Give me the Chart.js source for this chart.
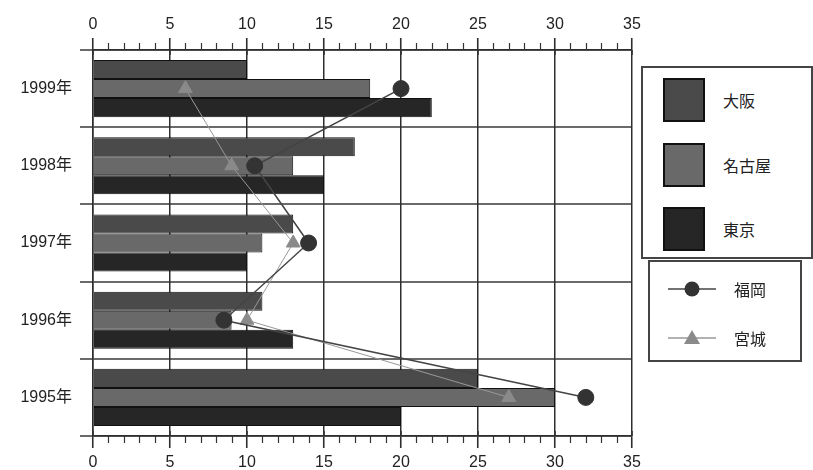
<!DOCTYPE html>
<html>
<head>
<meta charset="utf-8">
<script src="https://cdn.jsdelivr.net/npm/chart.js@4/dist/chart.umd.min.js"></script>
<style>
  html, body { margin: 0; padding: 0; background: #fff; }
  #wrap { position: relative; width: 813px; height: 470px; }
  canvas { position: absolute; left: 0; top: 0; }
  .lg { position: absolute; border: 2px solid #444; background: #fff; box-sizing: border-box;
        font-family: "Noto Sans CJK JP", "Liberation Sans", sans-serif; font-size: 16px; color: #222; }
  .lg .row { position: absolute; display: flex; align-items: center; }
  .sw { width: 42px; height: 44px; border: 2px solid #111; box-sizing: border-box; margin-right: 18px; }
  .mk { width: 48px; height: 20px; margin-right: 18px; }
</style>
</head>
<body>
<div id="wrap">
  <canvas id="c" width="813" height="470"></canvas>
  <div id="lgBars" class="lg" style="left:641px; top:66px; width:172px; height:193px;"></div>
  <div id="lgLines" class="lg" style="left:648px; top:260px; width:154px; height:102px;"></div>
</div>
<script>
// Categories, top to bottom
const years = ['1999年', '1998年', '1997年', '1996年', '1995年'];

// Bar series
const barNames = ['大阪', '名古屋', '東京'];
const osaka  = [10, 17, 13, 11, 25];
const nagoya = [18, 13, 11, 9, 30];
const tokyo  = [22, 15, 10, 13, 20];

// Line series
const lineNames = ['福岡', '宮城'];
const fukuoka = [20, 10.5, 14, 8.5, 32];
const miyagi  = [6, 9, 13, 10, 27];

// Value axis
const xMin = 0, xMax = 35, majorStep = 5;

const barColors = ['#4a4a4a', '#696969', '#262626'];
const lineStyles = [
  { line: '#444', marker: '#333', shape: 'circle', radius: 8, width: 1.5 },
  { line: '#999', marker: '#8a8a8a', shape: 'triangle', radius: 8, width: 1 }
];

const barSeries = [osaka, nagoya, tokyo];
const lineSeries = [fukuoka, miyagi];

const datasets = [];
barSeries.forEach((vals, i) => {
  datasets.push({
    type: 'bar', label: barNames[i], data: vals,
    backgroundColor: barColors[i], borderColor: '#111', borderWidth: 1,
    categoryPercentage: 0.74, barPercentage: 1.0, order: 2,
    xAxisID: 'x', yAxisID: 'y'
  });
});
lineSeries.forEach((vals, i) => {
  const s = lineStyles[i];
  datasets.push({
    type: 'line', label: lineNames[i], data: vals, indexAxis: 'y',
    borderColor: s.line, borderWidth: s.width, fill: false, tension: 0,
    pointStyle: s.shape, pointRadius: s.radius, pointBackgroundColor: s.marker,
    pointBorderColor: s.marker, pointBorderWidth: 1, order: 1,
    xAxisID: 'x', yAxisID: 'y'
  });
});

const tickFont = { family: '"Liberation Sans", "Noto Sans CJK JP", sans-serif', size: 16 };
const majorColor = ctx => (ctx.tick && ctx.tick.value % majorStep === 0) ? '#2e2e2e' : 'rgba(0,0,0,0)';
const labelCb = v => (v % majorStep === 0 ? String(v) : '');

// Short minor tick marks on both value axes, pointing outward
const minorTicks = {
  id: 'minorTicks',
  afterDraw(chart) {
    const ctx = chart.ctx;
    ctx.save();
    ctx.strokeStyle = '#333';
    ctx.lineWidth = 1.2;
    ['x', 'x2'].forEach(id => {
      const sc = chart.scales[id];
      for (let v = xMin; v <= xMax; v++) {
        if (v % majorStep === 0) continue;
        const px = Math.round(sc.getPixelForValue(v)) + 0.5;
        ctx.beginPath();
        if (sc.position === 'top') { ctx.moveTo(px, sc.bottom - 7); ctx.lineTo(px, sc.bottom); }
        else { ctx.moveTo(px, sc.top); ctx.lineTo(px, sc.top + 7); }
        ctx.stroke();
      }
      // major marks cross the axis line a little
      for (let v = xMin; v <= xMax; v += majorStep) {
        const px = sc.getPixelForValue(v);
        ctx.beginPath();
        ctx.lineWidth = 1.6;
        if (sc.position === 'top') { ctx.moveTo(px, sc.bottom); ctx.lineTo(px, sc.bottom + 5); }
        else { ctx.moveTo(px, sc.top - 5); ctx.lineTo(px, sc.top); }
        ctx.stroke();
        ctx.lineWidth = 1.2;
      }
    });
    ctx.restore();
  }
};

new Chart(document.getElementById('c'), {
  type: 'bar',
  data: { labels: years, datasets },
  options: {
    indexAxis: 'y',
    responsive: false,
    animation: false,
    layout: { padding: { left: 0, right: 181, top: 0, bottom: 0 } },
    plugins: { legend: { display: false }, tooltip: { enabled: false } },
    scales: {
      y: {
        type: 'category', position: 'left', offset: true,
        grid: { offset: true, color: '#6a6a6a', lineWidth: 2, tickLength: 13, tickColor: '#6a6a6a' },
        border: { display: true, color: '#2e2e2e', width: 1.5 },
        ticks: { font: tickFont, color: '#222', padding: 8 },
        afterFit: s => { s.width = 93; }
      },
      x: {
        type: 'linear', position: 'bottom', min: xMin, max: xMax,
        grid: { color: majorColor, lineWidth: 1.5, tickLength: 12, tickColor: majorColor, tickWidth: 1.6 },
        border: { display: true, color: '#2e2e2e', width: 1.5 },
        ticks: { stepSize: 1, autoSkip: false, maxRotation: 0, callback: labelCb, font: tickFont, color: '#222', padding: 5 },
        afterFit: s => { s.height = 34; }
      },
      x2: {
        type: 'linear', position: 'top', min: xMin, max: xMax,
        grid: { drawOnChartArea: false, color: majorColor, lineWidth: 1.5, tickLength: 12, tickColor: majorColor, tickWidth: 1.6 },
        border: { display: true, color: '#2e2e2e', width: 1.5 },
        ticks: { stepSize: 1, autoSkip: false, maxRotation: 0, callback: labelCb, font: tickFont, color: '#222', padding: 4 },
        afterFit: s => { s.height = 50; }
      }
    }
  },
  plugins: [minorTicks]
});

// Legend boxes built from the series names and styles
const lgBars = document.getElementById('lgBars');
barNames.forEach((name, i) => {
  const row = document.createElement('div');
  row.className = 'row';
  row.style.left = '20px';
  row.style.top = (10 + i * 64.5) + 'px';
  row.innerHTML = '<div class="sw" style="background:' + barColors[i] + '"></div><span>' + name + '</span>';
  lgBars.appendChild(row);
});
const lgLines = document.getElementById('lgLines');
lineNames.forEach((name, i) => {
  const s = lineStyles[i];
  const row = document.createElement('div');
  row.className = 'row';
  row.style.left = '18px';
  row.style.top = (15 + i * 49) + 'px';
  const marker = s.shape === 'circle'
    ? '<circle cx="24" cy="10" r="7.5" fill="' + s.marker + '"/>'
    : '<polygon points="24,2 32,16 16,16" fill="' + s.marker + '"/>';
  row.innerHTML = '<svg class="mk" viewBox="0 0 48 20"><line x1="0" y1="10" x2="48" y2="10" stroke="' + s.line +
    '" stroke-width="1.5"/>' + marker + '</svg><span>' + name + '</span>';
  lgLines.appendChild(row);
});
</script>
</body>
</html>
